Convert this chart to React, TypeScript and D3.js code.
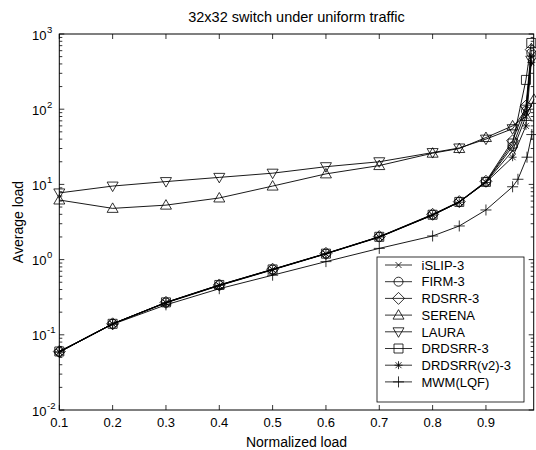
import React from "react";
import * as d3 from "d3";

const WIDTH = 536;
const HEIGHT = 450;
const MARGIN = { top: 34, right: 2.3, bottom: 40, left: 59.3 };
const FONT = '"Liberation Sans", Arial, Helvetica, sans-serif';

// normalized load points
const loadsMain = [0.1, 0.2, 0.3, 0.4, 0.5, 0.6, 0.7, 0.8, 0.85, 0.9, 0.95, 0.975, 0.985];
const loadsMwm = [0.1, 0.2, 0.3, 0.4, 0.5, 0.6, 0.7, 0.8, 0.85, 0.9, 0.95, 0.96, 0.977, 0.986];
const loadsSerena = [0.1, 0.2, 0.3, 0.4, 0.5, 0.6, 0.7, 0.8, 0.85, 0.9, 0.95, 0.975, 0.99];

// average load per scheme
const islip3 = [0.059, 0.139, 0.265, 0.45, 0.73, 1.19, 1.98, 3.9, 5.8, 10.7, 28, 80, 500];
const firm3 = [0.059, 0.14, 0.268, 0.455, 0.735, 1.2, 2.0, 3.95, 5.85, 10.8, 32, 95, 560];
const rdsrr3 = [0.06, 0.14, 0.27, 0.46, 0.745, 1.21, 2.02, 4.0, 5.9, 11.0, 38, 110, 620];
const serena = [6.2, 4.8, 5.3, 6.6, 9.5, 13.8, 17.8, 26, 30, 42, 60, 80, 135];
const laura = [7.7, 9.5, 10.9, 12.4, 14.1, 17.2, 20, 26.5, 30.5, 40, 55, 100, 450];
const drdsrr3 = [0.06, 0.14, 0.27, 0.46, 0.74, 1.2, 2.01, 3.95, 5.85, 10.8, 35, 245, 760];
const drdsrrV2 = [0.059, 0.14, 0.268, 0.455, 0.74, 1.2, 2.0, 3.9, 5.8, 10.6, 23, 60, 420];
const mwmLqf = [0.059, 0.138, 0.25, 0.41, 0.62, 0.94, 1.41, 2.06, 2.8, 4.57, 9.3, 11.7, 23, 46];

const seriesNames = ["iSLIP-3", "FIRM-3", "RDSRR-3", "SERENA", "LAURA", "DRDSRR-3", "DRDSRR(v2)-3", "MWM(LQF)"];
const seriesMarkers = ["x", "circle", "diamond", "triUp", "triDown", "square", "star", "plus"];
const seriesX = [loadsMain, loadsMain, loadsMain, loadsSerena, loadsMain, loadsMain, loadsMain, loadsMwm];
const seriesY = [islip3, firm3, rdsrr3, serena, laura, drdsrr3, drdsrrV2, mwmLqf];

const xTicks = [0.1, 0.2, 0.3, 0.4, 0.5, 0.6, 0.7, 0.8, 0.9];
const yExponents = [-2, -1, 0, 1, 2, 3];

const markerPath = (type: string) => {
  switch (type) {
    case "x":
      return "M-3,-3L3,3M-3,3L3,-3";
    case "diamond":
      return "M0,-6L6,0L0,6L-6,0Z";
    case "triUp":
      return "M0,-5.5L5.5,4L-5.5,4Z";
    case "triDown":
      return "M0,5.5L5.5,-4L-5.5,-4Z";
    case "square":
      return "M-4.5,-4.5h9v9h-9Z";
    case "star":
      return "M-4,0H4M0,-4V4M-3,-3L3,3M-3,3L3,-3";
    case "plus":
      return "M-5.5,0H5.5M0,-5.5V5.5";
    default:
      return "";
  }
};

const Marker = ({ type, x, y }: { type: string; x: number; y: number }) =>
  type === "circle" ? (
    <circle cx={x} cy={y} r={4.5} fill="none" stroke="#000" strokeWidth={0.8} />
  ) : (
    <path d={markerPath(type)} transform={`translate(${x},${y})`} fill="none" stroke="#000" strokeWidth={0.8} />
  );

const App = () => {
  const x0 = MARGIN.left;
  const x1 = WIDTH - MARGIN.right;
  const y0 = MARGIN.top;
  const y1 = HEIGHT - MARGIN.bottom;

  const xScale = d3.scaleLinear().domain([0.1, 0.99]).range([x0, x0 + 0.89 * 533.3]);
  const yScale = d3.scaleLog().domain([1e-2, 1e3]).range([y1, y0]);

  const line = d3
    .line<[number, number]>()
    .x((d) => xScale(d[0]))
    .y((d) => yScale(d[1]));

  const yMinor = yScale.ticks().filter((v) => Math.abs(Math.log10(v) - Math.round(Math.log10(v))) > 1e-6);

  const legX = 377;
  const legY = 257;
  const legW = 147;
  const legH = 145;
  const rowH = 16.7;

  return (
    <svg width={WIDTH} height={HEIGHT} style={{ position: "absolute", left: 0, top: 0 }} fontFamily={FONT}>
      <rect width={WIDTH} height={HEIGHT} fill="#fff" />
      <text x={(x0 + x1) / 2} y={22} textAnchor="middle" fontSize={14.5}>
        32x32 switch under uniform traffic
      </text>

      {/* series */}
      {seriesNames.map((name, i) => {
        const pts = seriesX[i].map((v, j) => [v, seriesY[i][j]] as [number, number]);
        return (
          <g key={name}>
            <path d={line(pts) || ""} fill="none" stroke="#000" strokeWidth={0.9} />
            {pts.map((p, j) => (
              <Marker key={j} type={seriesMarkers[i]} x={xScale(p[0])} y={yScale(p[1])} />
            ))}
          </g>
        );
      })}

      {/* frame and ticks */}
      <rect x={x0} y={y0} width={x1 - x0} height={y1 - y0} fill="none" stroke="#000" strokeWidth={1} />
      {xTicks.map((t) => (
        <g key={t}>
          <line x1={xScale(t)} x2={xScale(t)} y1={y1} y2={y1 - 5} stroke="#000" strokeWidth={0.8} />
          <line x1={xScale(t)} x2={xScale(t)} y1={y0} y2={y0 + 5} stroke="#000" strokeWidth={0.8} />
          <text x={xScale(t)} y={427} textAnchor="middle" fontSize={13}>
            {t.toFixed(1)}
          </text>
        </g>
      ))}
      {yExponents.map((e) => {
        const y = yScale(Math.pow(10, e));
        return (
          <g key={e}>
            <line x1={x0} x2={x0 + 5} y1={y} y2={y} stroke="#000" strokeWidth={0.8} />
            <line x1={x1} x2={x1 - 5} y1={y} y2={y} stroke="#000" strokeWidth={0.8} />
            <text x={46.5} y={y + 5.5} textAnchor="end" fontSize={13}>
              10
            </text>
            <text x={47} y={y - 1.5} fontSize={9.5}>
              {e}
            </text>
          </g>
        );
      })}
      {yMinor.map((v, i) => (
        <g key={i}>
          <line x1={x0} x2={x0 + 3} y1={yScale(v)} y2={yScale(v)} stroke="#000" strokeWidth={0.8} />
          <line x1={x1} x2={x1 - 3} y1={yScale(v)} y2={yScale(v)} stroke="#000" strokeWidth={0.8} />
        </g>
      ))}

      <text x={(x0 + x1) / 2} y={447} textAnchor="middle" fontSize={14}>
        Normalized load
      </text>
      <text transform={`translate(23,${(y0 + y1) / 2}) rotate(-90)`} textAnchor="middle" fontSize={14}>
        Average load
      </text>

      {/* legend */}
      <rect x={legX} y={legY} width={legW} height={legH} fill="#fff" stroke="#000" strokeWidth={0.8} />
      {seriesNames.map((name, i) => {
        const cy = legY + 8 + i * rowH;
        return (
          <g key={name}>
            <line x1={385} x2={412} y1={cy} y2={cy} stroke="#000" strokeWidth={0.8} />
            <Marker type={seriesMarkers[i]} x={398.5} y={cy} />
            <text x={421.5} y={cy + 4.7} fontSize={13}>
              {name}
            </text>
          </g>
        );
      })}
    </svg>
  );
};

export default App;
